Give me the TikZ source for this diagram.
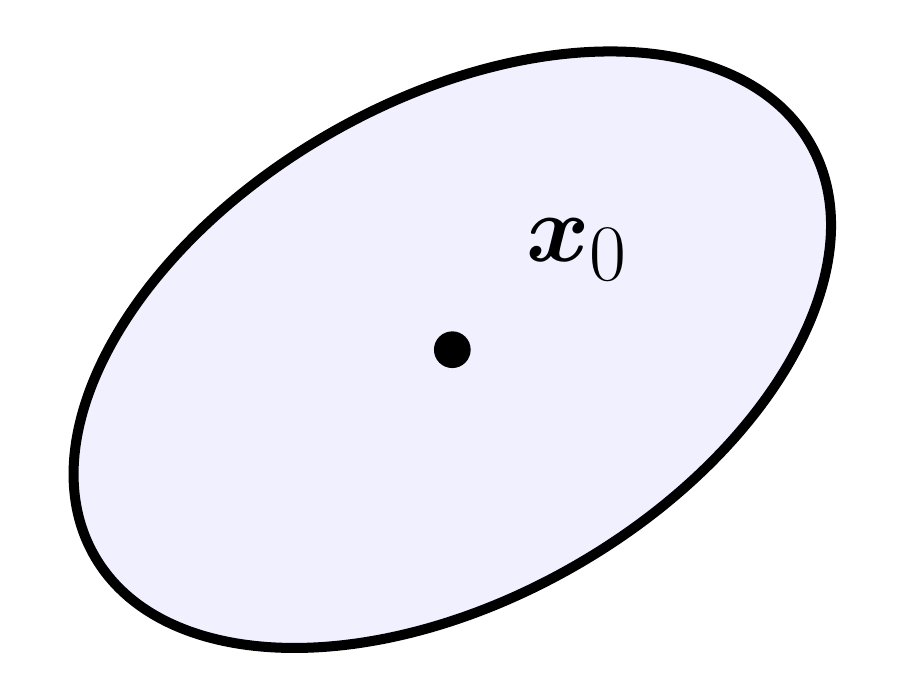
\documentclass[tikz,border=0pt]{standalone}
\usepackage{amsmath,amssymb,bm}
\usepackage{xcolor}
\usetikzlibrary{calc, positioning}

\begin{document}
\begin{tikzpicture}[region/.style={draw, fill=blue!6, line width=2.85pt},
  pnt/.style={circle, fill, inner sep=0pt, minimum size=0.367cm}]
\useasboundingbox (0,0) rectangle (9.21,6.98);
\draw[region, rotate around={30:(4.523,3.483)}] (4.523,3.483) ellipse [x radius=4.13, y radius=2.485];
\node[pnt] (x0) at (4.523,3.483) {};
\node[above right = 0.55cm and 0.6cm of x0, inner sep=0pt, scale=1.1] (lbl) {\Huge $\bm{x}_0$};
\end{tikzpicture}
\end{document}
